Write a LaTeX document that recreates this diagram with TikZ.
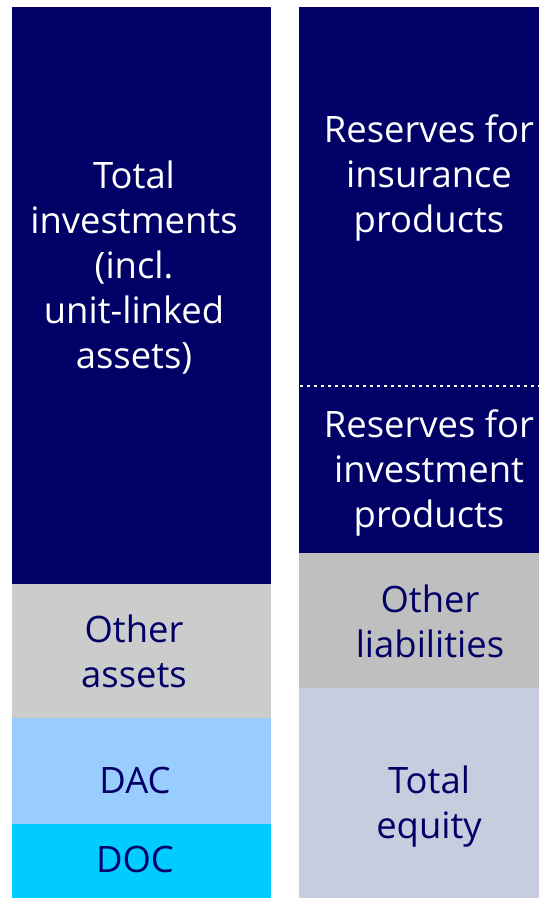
\documentclass[tikz,border=0pt]{standalone}
\usepackage{fontspec}
\setmainfont{Open Sans}
\definecolor{navy}{HTML}{000066}
\definecolor{greyA}{HTML}{CCCCCC}
\definecolor{greyB}{HTML}{BFBFBF}
\definecolor{skyblue}{HTML}{99CCFF}
\definecolor{cyanblue}{HTML}{00CCFF}
\definecolor{paleblue}{HTML}{C5CDDE}
\begin{document}
\begin{tikzpicture}[x=1pt,y=-1pt,
  lbl/.style={align=center,inner sep=0pt,font=\fontsize{36.4}{45}\selectfont},
  onDark/.style={lbl,text=white},
  onLight/.style={lbl,text=navy}]
\useasboundingbox (0,0) rectangle (539,898);
% assets column
\fill[navy]     (12,7)   rectangle (271,584);
\fill[greyA]    (12,584) rectangle (271,718);
\fill[skyblue]  (12,718) rectangle (271,824);
\fill[cyanblue] (12,824) rectangle (271,898);
% liabilities column
\fill[navy]     (299,7)   rectangle (539,553);
\fill[greyB]    (299,553) rectangle (539,688);
\fill[paleblue] (299,688) rectangle (539,898);
% split between the two reserve blocks
\coordinate (splitL) at (300,386);
\coordinate (splitR) at (539,386);
\draw[white,line width=2.7pt,dash pattern=on 2.7pt off 4.3pt] (splitL) -- (splitR);
% labels
\node[onDark]  (inv)  at (134,268) {Total\\investments\\(incl.\\unit-linked\\assets)};
\node[onLight] (oa)   at (134,651) {Other\\assets};
\node[onLight] (dac)  at (135,780) {DAC};
\node[onLight] (doc)  at (135,859) {DOC};
\node[onDark]  (rip)  at (429,178) {Reserves for\\insurance\\products};
\node[onDark]  (rinv) at (429,473) {Reserves for\\investment\\products};
\node[onLight] (ol)   at (430,621) {Other\\liabilities};
\node[onLight] (te)   at (429,807) {Total\\equity};
\end{tikzpicture}
\end{document}
